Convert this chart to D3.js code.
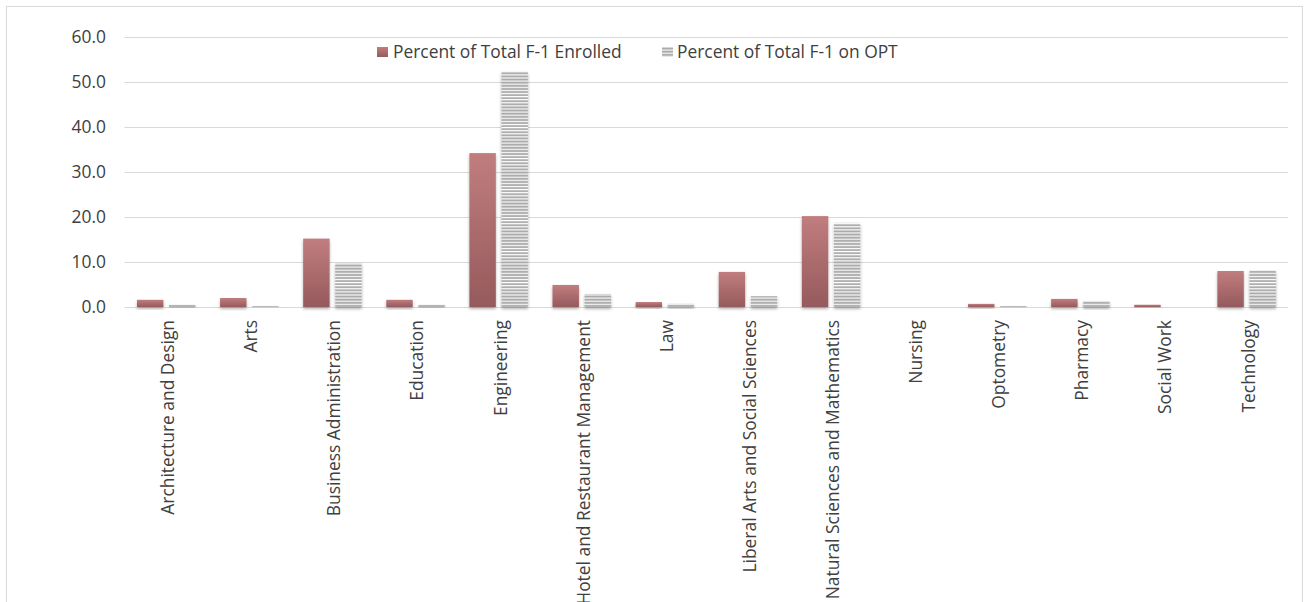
<!DOCTYPE html>
<html>
<head>
<meta charset="utf-8">
<script src="https://cdn.jsdelivr.net/npm/d3@7"></script>
<style>
  html, body { margin: 0; padding: 0; background: #fff; }
  svg { display: block; }
  text { font-family: "Open Sans", Lato, sans-serif; }
</style>
</head>
<body>
<svg id="chart" width="1310" height="602"></svg>
<script>
const categories = ["Architecture and Design", "Arts", "Business Administration", "Education",
  "Engineering", "Hotel and Restaurant Management", "Law", "Liberal Arts and Social Sciences",
  "Natural Sciences and Mathematics", "Nursing", "Optometry", "Pharmacy", "Social Work", "Technology"];
const enrolled = [1.6, 2.0, 15.2, 1.6, 34.2, 4.9, 1.1, 7.8, 20.2, 0.0, 0.7, 1.8, 0.5, 8.0];
const opt      = [0.5, 0.2, 9.7, 0.5, 52.3, 2.9, 0.7, 2.4, 18.7, 0.0, 0.2, 1.3, 0.0, 8.1];
const seriesNames = ["Percent of Total F-1 Enrolled", "Percent of Total F-1 on OPT"];
const yTicks = [0, 10, 20, 30, 40, 50, 60];

const FONT = "'Open Sans', Lato, sans-serif";
const FS = 17.4;
const TXT = "#404040";

const svg = d3.select("#chart");
const defs = svg.append("defs");

const grad = defs.append("linearGradient").attr("id", "redGrad")
  .attr("x1", 0).attr("y1", 0).attr("x2", 0).attr("y2", 1);
grad.append("stop").attr("offset", "0%").attr("stop-color", "#c17d7e");
grad.append("stop").attr("offset", "100%").attr("stop-color", "#955a5d");

const pat = defs.append("pattern").attr("id", "stripes")
  .attr("patternUnits", "userSpaceOnUse").attr("width", 8).attr("height", 3.1);
pat.append("rect").attr("width", 8).attr("height", 3.1).attr("fill", "#ffffff");
pat.append("rect").attr("y", 1.1).attr("width", 8).attr("height", 1.9).attr("fill", "#a9a9a9");

const sh = defs.append("filter").attr("id", "shadow")
  .attr("x", "-20%").attr("y", "-20%").attr("width", "140%").attr("height", "160%");
sh.append("feDropShadow").attr("dx", 0).attr("dy", 2).attr("stdDeviation", 1.4)
  .attr("flood-color", "#000").attr("flood-opacity", 0.3);

// frame
svg.append("rect").attr("x", 6.5).attr("y", 6.5).attr("width", 1296).attr("height", 640)
  .attr("fill", "none").attr("stroke", "#d9d9d9").attr("stroke-width", 1);

const x = d3.scaleBand().domain(categories).range([124.5, 1288]).padding(0);
const y = d3.scaleLinear().domain([0, 60]).range([307, 37]);

// gridlines
svg.append("g").selectAll("line").data(yTicks).join("line")
  .attr("x1", 124.5).attr("x2", 1288)
  .attr("y1", d => Math.round(y(d)) + 0.5).attr("y2", d => Math.round(y(d)) + 0.5)
  .attr("stroke", "#d9d9d9").attr("stroke-width", 1.2);

// y axis labels
const yAxis = d3.axisLeft(y).tickValues(yTicks).tickFormat(d3.format(".1f")).tickSize(0).tickPadding(0);
const ya = svg.append("g").attr("transform", "translate(106,0)").call(yAxis);
ya.select(".domain").remove();
ya.selectAll("text").attr("font-size", FS).attr("fill", TXT).style("font-family", FONT);

const bw = x.bandwidth();
const barW = bw * 0.318;
const off1 = bw * 0.15;
const off2 = off1 + barW + bw * 0.068;

const g = svg.append("g");
g.selectAll("rect.enr").data(categories).join("rect").attr("class", "enr")
  .attr("x", (d) => x(d) + off1)
  .attr("y", (d, i) => y(enrolled[i]))
  .attr("width", barW)
  .attr("height", (d, i) => y(0) - y(enrolled[i]))
  .attr("fill", "url(#redGrad)")
  .attr("filter", "url(#shadow)");

g.selectAll("rect.opt").data(categories).join("rect").attr("class", "opt")
  .attr("x", (d) => x(d) + off2)
  .attr("y", (d, i) => y(opt[i]))
  .attr("width", barW)
  .attr("height", (d, i) => y(0) - y(opt[i]))
  .attr("fill", "url(#stripes)")
  .attr("filter", "url(#shadow)");

// x axis labels (rotated)
const xAxis = d3.axisBottom(x).tickSize(0).tickPadding(0);
const xa = svg.append("g").attr("transform", "translate(0,307)").call(xAxis);
xa.select(".domain").remove();
xa.selectAll("text")
  .attr("transform", "translate(2,13) rotate(-90)")
  .attr("x", 0).attr("y", 0).attr("dy", "0.35em")
  .attr("text-anchor", "end")
  .attr("font-size", FS).attr("fill", TXT)
  .style("font-family", FONT);

// legend
const leg = svg.append("g");
leg.append("rect").attr("x", 377).attr("y", 47).attr("width", 11).attr("height", 10)
  .attr("fill", "url(#redGrad)");
leg.append("text").attr("x", 393).attr("y", 58).attr("font-size", FS).attr("fill", TXT)
  .style("font-family", FONT).text(seriesNames[0]);
leg.append("rect").attr("x", 662).attr("y", 47).attr("width", 11).attr("height", 10)
  .attr("fill", "url(#stripes)");
leg.append("text").attr("x", 677).attr("y", 58).attr("font-size", FS).attr("fill", TXT)
  .style("font-family", FONT).text(seriesNames[1]);
</script>
</body>
</html>
